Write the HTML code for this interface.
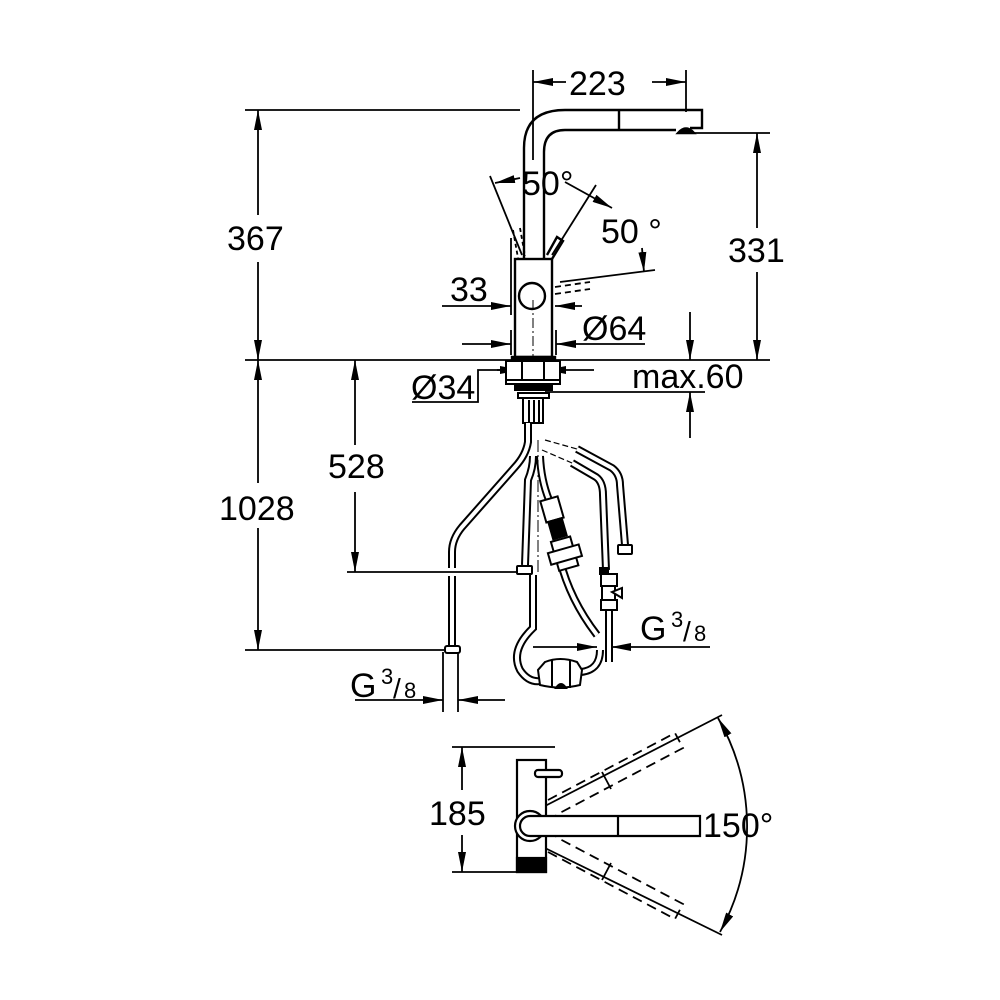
<!DOCTYPE html>
<html><head><meta charset="utf-8"><style>
html,body{margin:0;padding:0;background:#fff;}
svg{display:block;}
text{font-family:"Liberation Sans",Arial,sans-serif;fill:#000;}
</style></head><body>
<svg width="1000" height="1000" viewBox="0 0 1000 1000" xmlns="http://www.w3.org/2000/svg">
<defs>
<marker id="a" viewBox="0 0 20 8" refX="20" refY="4" markerWidth="20" markerHeight="8" markerUnits="userSpaceOnUse" orient="auto-start-reverse"><path d="M0,0 L20,4 L0,8 z" fill="#000"/></marker>
</defs>
<g stroke="#000" fill="none" stroke-width="1.8">
<line x1="245" y1="360" x2="770" y2="360"/>
<line x1="245" y1="110" x2="520" y2="110"/>
<line x1="688" y1="133" x2="770" y2="133"/>
<line x1="533" y1="70" x2="533" y2="160"/>
<line x1="686" y1="70" x2="686" y2="112"/>
<line x1="533" y1="82" x2="566" y2="82" marker-start="url(#a)"/>
<line x1="652" y1="82" x2="686" y2="82" marker-end="url(#a)"/>
<line x1="258" y1="110" x2="258" y2="215" marker-start="url(#a)"/>
<line x1="258" y1="262" x2="258" y2="360" marker-end="url(#a)"/>
<line x1="757" y1="133" x2="757" y2="228" marker-start="url(#a)"/>
<line x1="757" y1="272" x2="757" y2="360" marker-end="url(#a)"/>
<line x1="258" y1="360" x2="258" y2="483" marker-start="url(#a)"/>
<line x1="258" y1="528" x2="258" y2="650" marker-end="url(#a)"/>
<line x1="245" y1="650" x2="450" y2="650"/>
<line x1="355" y1="360" x2="355" y2="445" marker-start="url(#a)"/>
<line x1="355" y1="492" x2="355" y2="572" marker-end="url(#a)"/>
<line x1="347" y1="572" x2="520" y2="572"/>
<line x1="690" y1="312" x2="690" y2="360" marker-end="url(#a)"/>
<line x1="690" y1="438" x2="690" y2="392" marker-end="url(#a)"/>
<line x1="545" y1="392" x2="705" y2="392"/>
<line x1="442" y1="306" x2="511" y2="306" marker-end="url(#a)"/>
<line x1="582" y1="306" x2="555" y2="306" marker-end="url(#a)"/>
<line x1="511" y1="238" x2="511" y2="315"/>
<line x1="462" y1="344" x2="511" y2="344" marker-end="url(#a)"/>
<line x1="645" y1="344" x2="556" y2="344" marker-end="url(#a)"/>
<line x1="511" y1="330" x2="511" y2="355"/>
<line x1="556" y1="330" x2="556" y2="355"/>
<polyline points="412,402 478,402 478,370 520,370"/>
<line x1="497" y1="370" x2="520" y2="370" marker-end="url(#a)"/>
<line x1="594" y1="370" x2="546" y2="370" marker-end="url(#a)"/>
<line x1="355" y1="700" x2="443" y2="700" marker-end="url(#a)"/>
<line x1="505" y1="700" x2="458" y2="700" marker-end="url(#a)"/>
<line x1="443" y1="652" x2="443" y2="712"/>
<line x1="458" y1="652" x2="458" y2="712"/>
<line x1="533" y1="647" x2="597" y2="647" marker-end="url(#a)"/>
<line x1="710" y1="647" x2="611" y2="647" marker-end="url(#a)"/>
<line x1="490" y1="176" x2="522" y2="255"/>
<line x1="495" y1="183" x2="520" y2="178" marker-start="url(#a)"/>
<line x1="596" y1="185" x2="552" y2="255"/>
<line x1="565" y1="182" x2="612" y2="208" marker-end="url(#a)"/>
<line x1="560" y1="282" x2="655" y2="270"/>
<line x1="642" y1="248" x2="644" y2="272" marker-end="url(#a)"/>
<line x1="555" y1="287" x2="590" y2="282" stroke-dasharray="6,4"/>
<line x1="555" y1="294" x2="590" y2="289" stroke-dasharray="6,4"/>
<line x1="513" y1="230" x2="518" y2="258" stroke-dasharray="4,3"/>
<line x1="520" y1="228" x2="525" y2="256" stroke-dasharray="4,3"/>
</g>
<g stroke="#000" fill="none" stroke-width="2.4">
<path d="M524,260 L524,148 Q524,110 565,110 L702,110 L702,128 L690,128"/>
<path d="M544,260 L544,152 Q544,130 565,130 L676,130"/>
<line x1="619" y1="110" x2="619" y2="130"/>
<path d="M678,133 Q686,124 694,133 Z" fill="#000"/>
<rect x="515" y="259" width="37" height="98" fill="#fff"/>
<circle cx="532" cy="296" r="13"/>
<path d="M552,259 L563,241 L557,237 L547,255"/>
<rect x="512" y="357" width="43" height="3" fill="#000"/>
</g>
<g stroke="#000" stroke-width="1" fill="none"><line x1="533" y1="300" x2="533" y2="365" stroke-dasharray="10,3,2,3"/></g>
<g stroke="#000" fill="#fff" stroke-width="2">
<rect x="506" y="361" width="54" height="19"/>
<rect x="522" y="361" width="22" height="19"/>
<rect x="506" y="380" width="54" height="4"/>
<rect x="515" y="384" width="37" height="6" fill="#000"/>
<rect x="518" y="393" width="31" height="5"/>
<rect x="523" y="398" width="20" height="25"/>
<line x1="529" y1="400" x2="529" y2="423"/><line x1="534" y1="400" x2="534" y2="423"/><line x1="539" y1="400" x2="539" y2="423"/>
</g>
<g fill="none" stroke-linecap="butt">
<g stroke="#000" stroke-width="8">
<path d="M528,423 L528,442 Q526,455 515,467 L462,527 Q452,539 452,552 L452,568"/>
<path d="M452,576 L452,646"/>
<path d="M533,456 Q533,468 528,480 L525,565"/>
<path d="M540,456 Q541,480 549,500"/>
<path d="M560,560 Q570,600 597,635"/>
<path d="M533,575 L533,628 Q510,650 520,670 Q530,685 545,680"/>
<path d="M581,672 Q600,670 600,650"/>
<path d="M577,449 L612,468 Q620,474 620,485 L625,545"/>
<path d="M572,463 L596,477 Q603,482 603,495 L606,570"/>
<path d="M609,610 L609,662"/>
</g>
<g stroke="#fff" stroke-width="4">
<path d="M528,423 L528,442 Q526,455 515,467 L462,527 Q452,539 452,552 L452,568"/>
<path d="M452,576 L452,646"/>
<path d="M533,456 Q533,468 528,480 L525,565"/>
<path d="M540,456 Q541,480 549,500"/>
<path d="M560,560 Q570,600 597,635"/>
<path d="M533,575 L533,628 Q510,650 520,670 Q530,685 545,680"/>
<path d="M581,672 Q600,670 600,650"/>
<path d="M577,449 L612,468 Q620,474 620,485 L625,545"/>
<path d="M572,463 L596,477 Q603,482 603,495 L606,570"/>
<path d="M609,610 L609,662"/>
</g>
<g stroke="#000" stroke-width="1.2" stroke-dasharray="6,3">
<line x1="545" y1="440" x2="577" y2="449"/>
<line x1="542" y1="450" x2="572" y2="463"/>
</g>
<line x1="538" y1="440" x2="538" y2="575" stroke="#000" stroke-width="1" stroke-dasharray="12,3,2,3"/>
</g>
<g stroke="#000" stroke-width="2" fill="#fff">
<rect x="445" y="646" width="15" height="7" rx="2"/>
<rect x="517" y="566" width="15" height="8" rx="1"/>
<rect x="618" y="545" width="14" height="9" rx="1"/>
<g transform="rotate(-16 555 520)">
<rect x="546" y="498" width="18" height="22" fill="#fff"/>
<rect x="548" y="520" width="14" height="18" fill="#000"/>
<rect x="545" y="540" width="20" height="30"/>
<rect x="539" y="550" width="32" height="12"/>
</g>
<rect x="601" y="574" width="16" height="12"/>
<rect x="602" y="586" width="13" height="14"/>
<path d="M612,592 L622,588 L622,598 Z"/>
<rect x="601" y="600" width="16" height="10"/>
<rect x="600" y="568" width="8" height="6" fill="#000"/>
<path d="M545,662 Q560,656 577,662 L582,670 L580,685 Q560,690 540,685 L538,670 Z"/>
<line x1="552" y1="660" x2="552" y2="688"/><line x1="570" y1="660" x2="570" y2="688"/>
<path d="M556,688 Q561,680 566,688 Z" fill="#000"/>
</g>
<g stroke="#000" fill="none" stroke-width="1.8">
<line x1="452" y1="747" x2="555" y2="747"/>
<line x1="452" y1="872" x2="520" y2="872"/>
<line x1="462" y1="747" x2="462" y2="790" marker-start="url(#a)"/>
<line x1="462" y1="832" x2="462" y2="872" marker-end="url(#a)"/>
<path d="M718,718 A218,218 0 0 1 720,932" marker-start="url(#a)" marker-end="url(#a)"/>
<line x1="545" y1="806" x2="722" y2="715"/>
<line x1="545" y1="848" x2="722" y2="935"/>
<g stroke-dasharray="10,6">
<path d="M548,800 L675,733 L683,748 L556,815"/>
<path d="M548,852 L675,919 L683,904 L556,837"/>
</g>
<line x1="602" y1="772" x2="611" y2="789"/>
<line x1="602" y1="880" x2="611" y2="863"/>
</g>
<g stroke="#000" fill="#fff" stroke-width="2.2">
<rect x="517" y="760" width="29" height="112"/>
<rect x="517" y="858" width="29" height="14" fill="#000"/>
<rect x="535" y="770" width="27" height="7" rx="3"/>
<circle cx="530" cy="826" r="15"/>
<path d="M530,816 L700,816 L700,836 L530,836 A10,10 0 0 1 530,816 Z"/>
<line x1="618" y1="816" x2="618" y2="836"/>
</g>
<g font-size="34">
<rect x="566" y="64" width="86" height="34" fill="#fff"/>
<text x="569" y="95">223</text>
<rect x="226" y="218" width="64" height="40" fill="#fff"/>
<text x="227" y="250">367</text>
<rect x="726" y="232" width="60" height="40" fill="#fff"/>
<text x="728" y="262">331</text>
<rect x="218" y="488" width="80" height="40" fill="#fff"/>
<text x="219" y="520">1028</text>
<rect x="326" y="448" width="62" height="40" fill="#fff"/>
<text x="328" y="478">528</text>
<text x="450" y="301">33</text>
<text x="582" y="340">Ø64</text>
<text x="411" y="399">Ø34</text>
<text x="632" y="388">max.60</text>
<text x="522" y="195">50°</text>
<text x="601" y="243">50 °</text>
<rect x="428" y="795" width="68" height="40" fill="#fff"/>
<text x="429" y="825">185</text>
<text x="703" y="837">150°</text>
<text x="350" y="697">G</text>
<text x="640" y="640">G</text>
</g>
<g font-size="22">
<text x="381" y="684">3</text><text x="393" y="698" font-size="28">/</text><text x="404" y="698">8</text>
<text x="671" y="627">3</text><text x="683" y="641" font-size="28">/</text><text x="694" y="641">8</text>
</g>
</svg>
</body></html>
